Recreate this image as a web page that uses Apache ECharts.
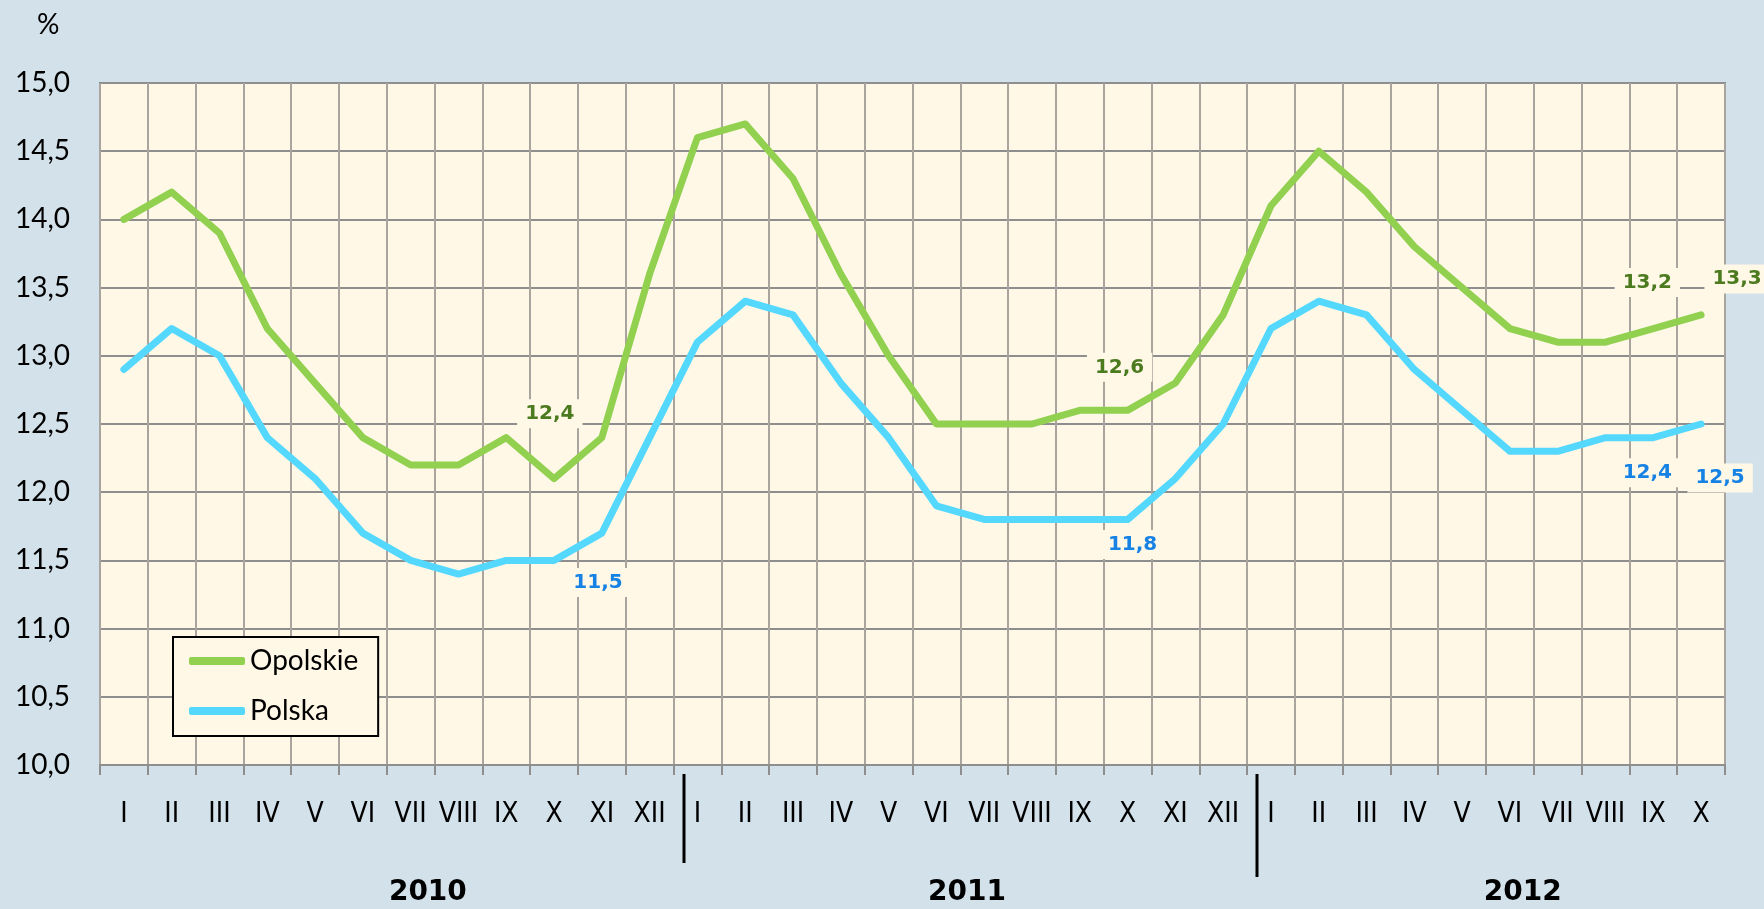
<!DOCTYPE html>
<html>
<head>
<meta charset="utf-8">
<script src="https://cdn.jsdelivr.net/npm/echarts@6/dist/echarts.min.js"></script>
<style>
    html, body { margin: 0; padding: 0; background: #d3e1ea; }
    #main { width: 1764px; height: 909px; }
</style>
</head>
<body>
<div id="main"></div>
<script>
var months = ['I', 'II', 'III', 'IV', 'V', 'VI', 'VII', 'VIII', 'IX', 'X', 'XI', 'XII',
    'I', 'II', 'III', 'IV', 'V', 'VI', 'VII', 'VIII', 'IX', 'X', 'XI', 'XII',
    'I', 'II', 'III', 'IV', 'V', 'VI', 'VII', 'VIII', 'IX', 'X'];
var years = ['2010', '2011', '2012'];

var opolskie = [14.0, 14.2, 13.9, 13.2, 12.8, 12.4, 12.2, 12.2, 12.4, 12.1, 12.4, 13.6,
    14.6, 14.7, 14.3, 13.6, 13.0, 12.5, 12.5, 12.5, 12.6, 12.6, 12.8, 13.3,
    14.1, 14.5, 14.2, 13.8, 13.5, 13.2, 13.1, 13.1, 13.2, 13.3];
var polska = [12.9, 13.2, 13.0, 12.4, 12.1, 11.7, 11.5, 11.4, 11.5, 11.5, 11.7, 12.4,
    13.1, 13.4, 13.3, 12.8, 12.4, 11.9, 11.8, 11.8, 11.8, 11.8, 12.1, 12.5,
    13.2, 13.4, 13.3, 12.9, 12.6, 12.3, 12.3, 12.4, 12.4, 12.5];

// which points carry a value label
var opolskieLabelAt = [10, 21, 32, 33];
var polskaLabelAt = [9, 21, 32, 33];

// label placement (px, relative to the point)
var opolskieOffsets = [[-52, -24], [-8, -43], [-6, -46], [36, -36]];
var polskaOffsets = [[44, 22], [5, 25], [-6, 35], [19, 54]];

var plotBg = '#fff8e7';
var textFont = 'Lato, "Open Sans", sans-serif';

function fmt(v) {
    return v.toFixed(1).replace('.', ',');
}

function withLabels(values, at, offsets, color) {
    return values.map(function (v, i) {
        var k = at.indexOf(i);
        if (k < 0) return v;
        return {
            value: v,
            label: {
                show: true,
                position: 'inside',
                offset: offsets[k],
                formatter: function (p) { return fmt(p.value); },
                color: color,
                fontFamily: '"DejaVu Sans", Verdana, sans-serif',
                fontWeight: 'bold',
                fontSize: 20,
                backgroundColor: plotBg,
                padding: [5, 8, 4, 8]
            }
        };
    });
}

var chart = echarts.init(document.getElementById('main'));
var option = {
    backgroundColor: '#d3e1ea',
    animation: false,
    title: {
        text: '%',
        left: 32,
        top: 6,
        textStyle: { fontFamily: textFont, fontSize: 28, fontWeight: 'normal', color: '#000' }
    },
    grid: {
        left: 100,
        right: 39,
        top: 83,
        bottom: 144,
        show: true,
        backgroundColor: plotBg,
        borderColor: '#5b8c88',
        borderWidth: 2
    },
    legend: {
        orient: 'vertical',
        left: 173,
        top: 637,
        padding: [7, 20, 8, 16],
        itemGap: 16,
        itemWidth: 56,
        itemHeight: 8,
        icon: 'roundRect',
        backgroundColor: plotBg,
        borderColor: '#000',
        borderWidth: 2,
        textStyle: { fontFamily: textFont, fontSize: 28, color: '#000', lineHeight: 34 },
        data: ['Opolskie', 'Polska']
    },
    xAxis: {
        type: 'category',
        data: months,
        boundaryGap: true,
        axisLine: { show: true, lineStyle: { color: '#8e8e8e', width: 2 } },
        axisTick: { show: true, interval: 0, length: 10, lineStyle: { color: '#8e8e8e', width: 2 } },
        splitLine: { show: true, interval: 0, lineStyle: { color: '#aaa49e', width: 2 } },
        axisLabel: {
            interval: 0,
            margin: 36,
            fontFamily: '"DejaVu Sans Condensed", "Liberation Sans Narrow", sans-serif',
            fontSize: 28,
            color: '#000'
        }
    },
    yAxis: {
        type: 'value',
        min: 10,
        max: 15,
        interval: 0.5,
        axisLine: { show: false },
        axisTick: { show: false },
        splitLine: { show: true, lineStyle: { color: '#8e8e8e', width: 2 } },
        axisLabel: {
            margin: 30,
            fontFamily: textFont,
            fontSize: 28,
            color: '#000',
            formatter: fmt
        }
    },
    series: [
        {
            name: 'Opolskie',
            type: 'line',
            data: withLabels(opolskie, opolskieLabelAt, opolskieOffsets, '#4b7a1f'),
            symbol: 'circle',
            symbolSize: 1,
            itemStyle: { color: '#92d050' },
            lineStyle: { color: '#92d050', width: 7, join: 'round', cap: 'round' },
            z: 3
        },
        {
            name: 'Polska',
            type: 'line',
            data: withLabels(polska, polskaLabelAt, polskaOffsets, '#1682e4'),
            symbol: 'circle',
            symbolSize: 1,
            itemStyle: { color: '#55d8fd' },
            lineStyle: { color: '#55d8fd', width: 7, join: 'round', cap: 'round' },
            z: 3
        }
    ]
};
chart.setOption(option);

// year separators and year captions under the month axis
var c0 = chart.convertToPixel({ xAxisIndex: 0 }, 0);
var band = chart.convertToPixel({ xAxisIndex: 0 }, 1) - c0;
var edge = c0 - band / 2;
var yearPos = [6.86, 18.14, 29.77];
var sepAt = [12, 24];
var sepBottom = [863, 877];
var graphics = [];
sepAt.forEach(function (k, i) {
    var x = Math.round(edge + k * band + 10);
    graphics.push({
        type: 'line',
        shape: { x1: x, y1: 774, x2: x, y2: sepBottom[i] },
        style: { stroke: '#000', lineWidth: 3 }
    });
});
years.forEach(function (y, i) {
    graphics.push({
        type: 'text',
        x: edge + yearPos[i] * band,
        y: 893,
        style: {
            text: y,
            fill: '#000',
            font: 'bold 28px "DejaVu Sans", Verdana, sans-serif',
            textAlign: 'center',
            textVerticalAlign: 'middle'
        }
    });
});
chart.setOption({ graphic: graphics });

window.addEventListener('resize', function () {
    chart.resize();
});
</script>
</body>
</html>
